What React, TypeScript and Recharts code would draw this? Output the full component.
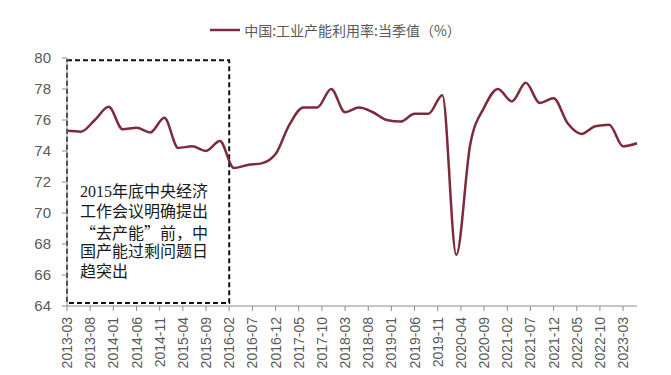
import { LineChart, Line, XAxis, YAxis, Legend, ReferenceArea } from 'recharts';

const LINE_COLOR = '#7d2b3a';
const AXIS_COLOR = '#8c8c8c';
const TEXT_COLOR = '#595959';

// quarterly readings (end month of each quarter)
const QUARTERS = [
  '2013-03', '2013-06', '2013-09', '2013-12',
  '2014-03', '2014-06', '2014-09', '2014-12',
  '2015-03', '2015-06', '2015-09', '2015-12',
  '2016-03', '2016-06', '2016-09', '2016-12',
  '2017-03', '2017-06', '2017-09', '2017-12',
  '2018-03', '2018-06', '2018-09', '2018-12',
  '2019-03', '2019-06', '2019-09', '2019-12',
  '2020-03', '2020-06', '2020-09', '2020-12',
  '2021-03', '2021-06', '2021-09', '2021-12',
  '2022-03', '2022-06', '2022-09', '2022-12',
  '2023-03', '2023-06',
];

const UTILIZATION = [
  75.3, 75.25, 76.0, 76.85,
  75.4, 75.5, 75.2, 76.15,
  74.2, 74.3, 74.0, 74.65,
  72.9, 73.1, 73.2, 73.8,
  75.7, 76.8, 76.8, 78.0,
  76.5, 76.8, 76.5, 76.0,
  75.9, 76.4, 76.4, 77.6,
  67.3, 74.4, 76.8, 78.0,
  77.2, 78.4, 77.1, 77.4,
  75.8, 75.1, 75.6, 75.7,
  74.3, 74.5,
];

const Y_TICKS = [64, 66, 68, 70, 72, 74, 76, 78, 80];

const SERIES_NAME = '中国:工业产能利用率:当季值（%）';

const NOTE_LINES = [
  '2015年底中央经济',
  '工作会议明确提出',
  '“去产能”前，中',
  '国产能过剩问题日',
  '趋突出',
];

// monthly axis: quarter rows carry the value, the months in between are empty
function nextMonth(label: string) {
  let [y, m] = label.split('-').map(Number);
  m += 1;
  if (m > 12) {
    m = 1;
    y += 1;
  }
  return `${y}-${String(m).padStart(2, '0')}`;
}

const rows: { month: string; value: number | null }[] = [];
QUARTERS.forEach((q, i) => {
  rows.push({ month: q, value: UTILIZATION[i] });
  if (i < QUARTERS.length - 1) {
    const m1 = nextMonth(q);
    rows.push({ month: m1, value: null });
    rows.push({ month: nextMonth(m1), value: null });
  }
});

function MonthTick({ x, y, payload }: any) {
  return (
    <text
      x={x}
      y={y}
      transform={`rotate(-90, ${x}, ${y})`}
      textAnchor="end"
      dominantBaseline="central"
      fill={TEXT_COLOR}
      fontSize={14}
      fontFamily="Liberation Sans, Arial, sans-serif"
    >
      {payload.value}
    </text>
  );
}

function LegendContent() {
  return (
    <div
      style={{
        height: 20,
        display: 'flex',
        alignItems: 'center',
        justifyContent: 'center',
        fontFamily: '"Noto Sans CJK SC", sans-serif',
        fontSize: 14,
        color: TEXT_COLOR,
      }}
    >
      <svg width={32} height={6} style={{ marginRight: 2 }}>
        <line x1={0} y1={3} x2={30} y2={3} stroke={LINE_COLOR} strokeWidth={2.5} />
      </svg>
      <span>{SERIES_NAME}</span>
    </div>
  );
}

function NoteLabel({ viewBox }: any) {
  const x0 = viewBox.x + 13;
  const y0 = 191.5;
  return (
    <g>
      {NOTE_LINES.map((line, i) => (
        <text
          key={i}
          x={x0}
          y={y0 + i * 20}
          dominantBaseline="central"
          fill="#1a1a1a"
          fontSize={16}
          fontFamily={
            i === 2
              ? '"Noto Sans CJK SC", sans-serif'
              : '"Liberation Serif", "Noto Sans CJK SC", serif'
          }
        >
          {line}
        </text>
      ))}
    </g>
  );
}

export default function App() {
  return (
    <div style={{ position: 'absolute', left: 0, top: 0, width: 671, height: 375, background: '#fff' }}>
      <LineChart
        width={671}
        height={375}
        data={rows}
        margin={{ top: 38, right: 34, bottom: 0, left: 0 }}
      >
        <Legend
          verticalAlign="top"
          height={20}
          content={<LegendContent />}
          wrapperStyle={{ top: 20, left: 0, width: 671 }}
        />
        <XAxis
          dataKey="month"
          interval={4}
          height={69}
          tick={<MonthTick />}
          tickSize={5}
          tickMargin={6}
          stroke={AXIS_COLOR}
        />
        <YAxis
          domain={[64, 80]}
          ticks={Y_TICKS}
          width={67}
          tickSize={5}
          tickMargin={11}
          stroke={AXIS_COLOR}
          tick={{ fill: TEXT_COLOR, fontSize: 15, fontFamily: 'Liberation Sans, Arial, sans-serif' }}
        />
        <ReferenceArea
          x1="2013-03"
          x2="2016-02"
          y1={64.2}
          y2={79.85}
          fill="none"
          stroke="#111"
          strokeWidth={2}
          strokeDasharray="5 3"
          label={<NoteLabel />}
        />
        <Line
          type="monotone"
          dataKey="value"
          name={SERIES_NAME}
          stroke={LINE_COLOR}
          strokeWidth={2.5}
          dot={false}
          connectNulls
          isAnimationActive={false}
        />
      </LineChart>
    </div>
  );
}
